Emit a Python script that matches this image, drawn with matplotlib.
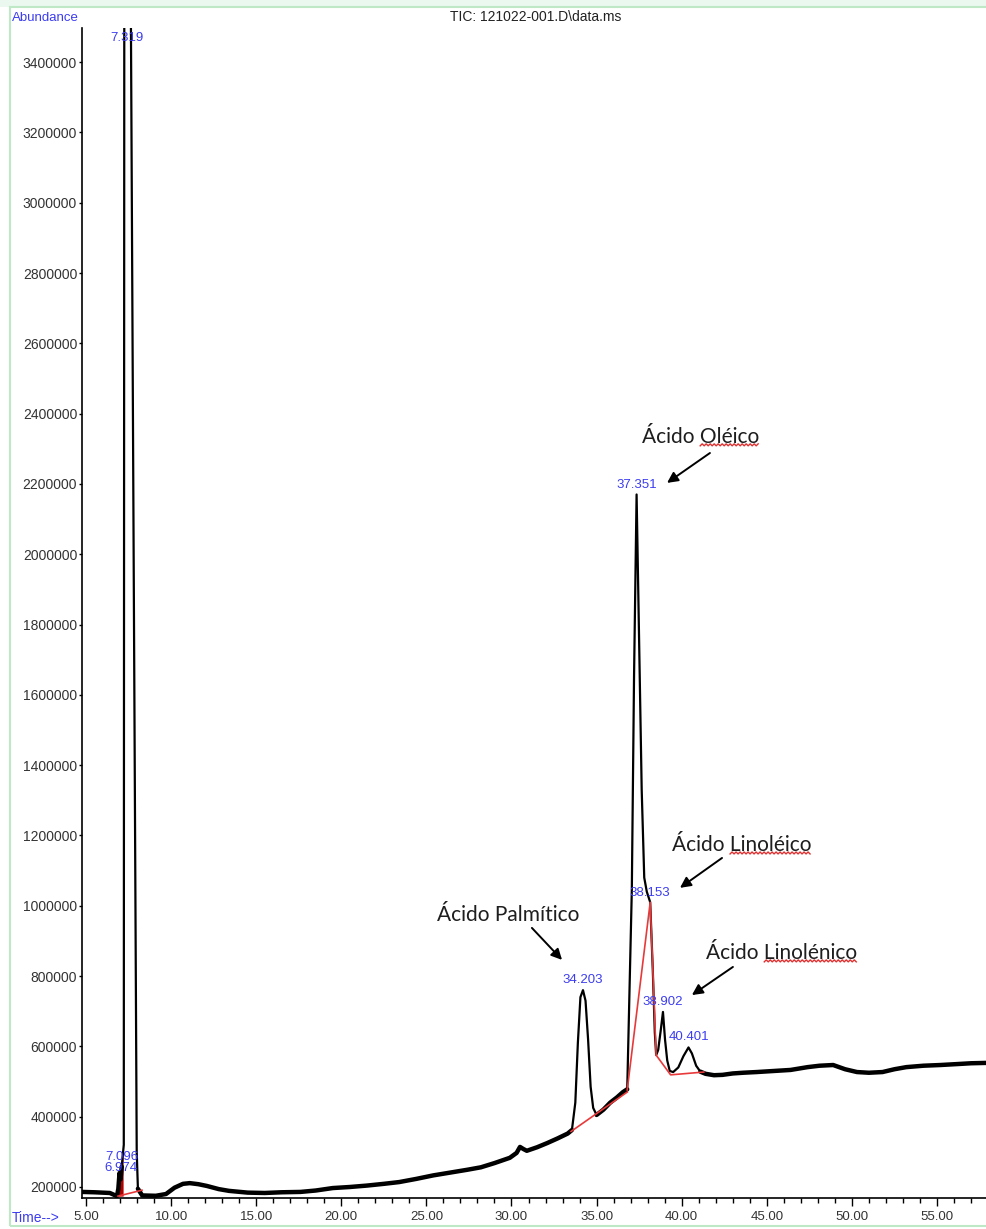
import numpy as np
import matplotlib.pyplot as plt
from matplotlib.ticker import MultipleLocator, FuncFormatter
from matplotlib.patches import Rectangle
from matplotlib.lines import Line2D

plt.rcParams['font.family'] = ['Liberation Sans', 'DejaVu Sans']

# TIC trace: retention time (min) and abundance
time_min = [4.77, 5.5, 6.4, 6.82, 6.90, 6.97, 7.03, 7.10, 7.18, 7.22, 7.25, 7.30,
            7.58, 7.63, 7.98, 8.05, 8.3, 9.1, 9.7, 10.2, 10.7, 11.1, 11.6, 12.1,
            12.8, 13.4, 14.5, 15.5, 16.5, 17.6, 18.5, 19.5, 20.5, 21.5, 22.5, 23.4,
            24.4, 25.4, 26.4, 27.4, 28.2, 29.0, 29.9, 30.3, 30.5, 30.7, 30.9, 31.5,
            32.1, 32.7, 33.3, 33.55, 33.75, 33.9, 34.05, 34.2, 34.35, 34.5, 34.65,
            34.8, 35.0, 35.4, 35.8, 36.2, 36.55, 36.8, 37.07, 37.2, 37.35, 37.5,
            37.65, 37.8, 37.95, 38.15, 38.3, 38.42, 38.5, 38.62, 38.78, 38.9, 39.02,
            39.15, 39.3, 39.5, 39.8, 40.1, 40.4, 40.6, 40.85, 41.1, 41.4, 41.9, 42.4,
            43.0, 43.6, 44.4, 45.4, 46.4, 47.4, 48.1, 48.9, 49.6, 50.3, 51.0, 51.8,
            52.5, 53.2, 54.2, 55.2, 56.3, 57.0, 57.88]
abundance = [186000, 185000, 183000, 174000, 195000, 240000, 222000, 258000, 300000,
             320000, 3600000, 5500000, 5500000, 3600000, 300000, 195000, 176000,
             175000, 180000, 198000, 209000, 211000, 208000, 203000, 194000, 189000,
             184000, 183000, 185000, 186000, 190000, 197000, 200000, 204000, 209000,
             214000, 223000, 233000, 241000, 249000, 256000, 268000, 283000, 297000,
             314000, 308000, 303000, 313000, 325000, 338000, 352000, 362000, 440000,
             610000, 740000, 760000, 730000, 620000, 485000, 425000, 405000, 420000,
             440000, 455000, 470000, 478000, 1045000, 1650000, 2170000, 1750000,
             1330000, 1080000, 1040000, 1010000, 820000, 640000, 575000, 590000,
             650000, 698000, 620000, 560000, 530000, 527000, 540000, 572000, 597000,
             580000, 545000, 528000, 522000, 518000, 519000, 523000, 525000, 527000,
             530000, 533000, 541000, 545000, 547000, 535000, 527000, 525000, 527000,
             535000, 541000, 545000, 547000, 550000, 552000, 553000]

# integration baselines (red)
base_segments = [
    ([6.88, 8.29], [174000, 191000]),
    ([33.5, 36.8], [358000, 470000]),
    ([36.8, 38.15, 38.5], [476000, 1010000, 575000]),
    ([38.5, 39.35, 41.3], [575000, 519000, 527000]),
]

peak_rt = [6.974, 7.096, 7.319, 34.203, 37.351, 38.153, 38.902, 40.401]
peak_labels = ['6.974', '7.096', '7.319', '34.203', '37.351', '38.153', '38.902', '40.401']

compounds = ['Ácido Oléico', 'Ácido Linoléico', 'Ácido Palmítico', 'Ácido Linolénico']
squiggly = [True, True, False, True]

blue = '#3c3cf0'
t = np.array(time_min)
a = np.array(abundance)

fig = plt.figure(figsize=(9.86, 12.29), dpi=100)
ax = fig.add_axes([82 / 986, 1 - 1198 / 1229, 1 - 82 / 986, (1198 - 28) / 1229])
ax.set_xlim(4.765, 57.88)
ax.set_ylim(168700, 3497000)

ax.plot(t, a, color='black', lw=1.6, solid_joinstyle='round')
# the noisy flat stretches read thicker than the sharp peaks
flat = (t < 7.12) | ((t > 8.0) & (t < 33.6)) | ((t > 34.9) & (t < 36.85)) | (t > 41.0)
for seg in np.split(np.arange(len(t)), np.where(np.diff(flat.astype(int)) != 0)[0] + 1):
    if flat[seg[0]]:
        ax.plot(t[seg], a[seg], color='black', lw=3.2, solid_capstyle='round',
                solid_joinstyle='round')

# small peaks integrated in front of the solvent peak
m = (t >= 6.85) & (t <= 7.2)
ax.fill_between(t[m], 174000, a[m], color='#b00000', lw=0)
for xs, ys in base_segments:
    ax.plot(xs, ys, color='#e8393a', lw=1.2)

ymax = ax.get_ylim()[1]
lab_font = dict(fontsize=9.5, color=blue, ha='center', va='center')
for rt, lab in zip(peak_rt, peak_labels):
    h = np.interp(rt, t, a)
    if lab == '6.974':
        ax.annotate(lab, (rt + 0.05, h), xytext=(0, 4), textcoords='offset points',
                    **lab_font)
    elif h > ymax:
        ax.annotate(lab, (rt + 0.1, ymax), xytext=(0, -7), textcoords='offset points',
                    **lab_font)
    else:
        ax.annotate(lab, (rt, h), xytext=(0, 7.5), textcoords='offset points',
                    **lab_font)

# compound names with arrows
text_pos = [(41.13, 2334000), (43.54, 1173000), (29.79, 974000), (45.89, 866000)]
arrow_tail = [(41.66, 2288000), (42.37, 1136000), (31.20, 937000), (43.01, 826000)]
arrow_head = [(39.14, 2203000), (39.90, 1051000), (32.97, 846000), (40.60, 746000)]
name_font = dict(family=['Lato', 'DejaVu Sans'], fontsize=15, color='#1e1e1e')
name_artists = []
for name, tp, tl, hd in zip(compounds, text_pos, arrow_tail, arrow_head):
    txt = ax.text(tp[0], tp[1], name, ha='center', va='center', **name_font)
    name_artists.append(txt)
    ax.annotate('', xy=hd, xytext=tl,
                arrowprops=dict(arrowstyle='-|>', color='black', lw=1.4,
                                mutation_scale=16, shrinkA=0, shrinkB=0))

ax.spines['top'].set_visible(False)
ax.spines['right'].set_visible(False)
ax.spines['left'].set_linewidth(1.2)
ax.spines['bottom'].set_linewidth(1.2)

ax.xaxis.set_major_locator(MultipleLocator(5))
ax.xaxis.set_minor_locator(MultipleLocator(1))
ax.xaxis.set_major_formatter(FuncFormatter(lambda v, p: f'{v:.2f}'))
ax.yaxis.set_major_locator(MultipleLocator(200000))
ax.yaxis.set_major_formatter(FuncFormatter(lambda v, p: f'{int(v)}'))
ax.tick_params(axis='x', which='major', length=5.5, width=1, pad=3.5,
               labelsize=9.5, labelcolor='#333333')
ax.tick_params(axis='x', which='minor', length=3.5, width=1)
ax.tick_params(axis='y', which='major', length=2.5, width=1, pad=1,
               labelsize=10, labelcolor='#333333')

fig.text(12 / 986, 1 - 18 / 1229, 'Abundance', color=blue, fontsize=9.5,
         ha='left', va='center')
fig.text(12 / 986, 1 - 1218 / 1229, 'Time-->', color=blue, fontsize=10,
         ha='left', va='center')
fig.text(536 / 986, 1 - 17 / 1229, 'TIC: 121022-001.D\\data.ms', color='#222222',
         fontsize=10, ha='center', va='center')

# window frame
fig.patches.append(Rectangle((0, 1 - 7 / 1229), 1, 7 / 1229, transform=fig.transFigure,
                             facecolor='#eaf8f0', edgecolor='none', zorder=-1))
fig.patches.append(Rectangle((10 / 986, 1 - 1226 / 1229), 1, (1226 - 7) / 1229,
                             transform=fig.transFigure, facecolor='none',
                             edgecolor='#bfe8c6', lw=1.5, zorder=-1))

# spell-check underline under the second word
fig.canvas.draw()
renderer = fig.canvas.get_renderer()
W, H = fig.bbox.width, fig.bbox.height
for txt, name, sq in zip(name_artists, compounds, squiggly):
    if not sq:
        continue
    bb = txt.get_window_extent(renderer)
    tmp = fig.text(0, 0, name.split()[0] + ' ', **name_font)
    pw = tmp.get_window_extent(renderer).width
    tmp.remove()
    xs = np.arange(bb.x0 + pw, bb.x1, 2.0)
    ys = bb.y0 + 1 + np.tile([0, 2], len(xs))[:len(xs)]
    fig.add_artist(Line2D(xs / W, ys / H, transform=fig.transFigure,
                          color='#e03030', lw=1.0))

fig.savefig('out.png', dpi=100)
